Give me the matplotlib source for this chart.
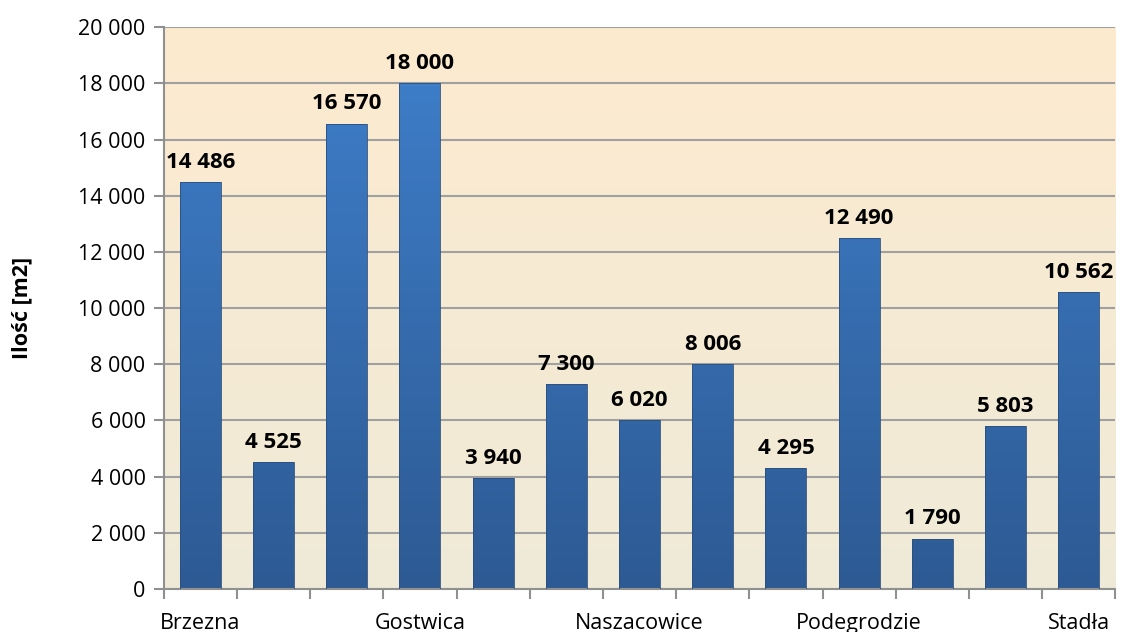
import numpy as np
import matplotlib.pyplot as plt
from matplotlib.colors import LinearSegmentedColormap

plt.rcParams['font.family'] = ['Open Sans', 'DejaVu Sans']

# data
villages = ['Brzezna', 'Chochorowice', 'Długołęka-Świerkla', 'Gostwica', 'Juraszowa',
            'Mokra Wieś', 'Naszacowice', 'Olszana', 'Olszanka', 'Podegrodzie',
            'Rogi', 'Rychwałd', 'Stadła']
area = [14486, 4525, 16570, 18000, 3940, 7300, 6020, 8006, 4295, 12490, 1790, 5803, 10562]
yticks = list(range(0, 20001, 2000))


def fmt(v):
    return f'{v:,}'.replace(',', ' ')


fig, ax = plt.subplots(figsize=(11.21, 6.32), dpi=100)
fig.subplots_adjust(left=0.146, right=0.995, top=0.957, bottom=0.068)

x = np.arange(len(villages))
ax.set_xlim(-0.5, len(villages) - 0.5)
ax.set_ylim(0, 20000)

# background gradient
bg = LinearSegmentedColormap.from_list('bg', ['#efead8', '#fdebcf'])
ax.imshow(np.linspace(0, 1, 256).reshape(-1, 1), cmap=bg, aspect='auto',
          extent=(-0.5, len(villages) - 0.5, 0, 20000), origin='lower', zorder=0)

ax.set_yticks(yticks)
ax.yaxis.grid(True, color='#a0a0a0', linewidth=1.5, zorder=1)
ax.set_axisbelow(True)

bars = ax.bar(x, area, width=0.56, color='none', edgecolor='#2b4f7e', linewidth=0.6, zorder=3)
bar_cmap = LinearSegmentedColormap.from_list('bar', ['#2d5a93', '#3f80cd'])
for b in bars:
    x0 = b.get_x()
    im = ax.imshow(np.linspace(0, 1, 256).reshape(-1, 1), cmap=bar_cmap, aspect='auto',
                   extent=(x0, x0 + b.get_width(), 0, 20000), origin='lower', zorder=2)
    im.set_clip_path(b)

for xi, v in zip(x, area):
    ax.text(xi, v + 330, fmt(v), ha='center', va='bottom', fontsize=16, fontweight='bold')

ax.set_yticklabels([fmt(t) for t in yticks], fontsize=15.5)
ax.set_xticks(x[::3])
ax.set_xticklabels([villages[i] for i in range(0, len(villages), 3)], fontsize=15.5)
ax.set_xticks(np.arange(-0.5, len(villages)), minor=True)
ax.tick_params(axis='x', which='major', length=0, pad=17)
ax.tick_params(axis='x', which='minor', length=7, color='#909090', width=1.5)
ax.tick_params(axis='y', length=7, color='#909090', width=1.5, pad=6)

ax.set_ylabel('Ilość [m2]', fontsize=15.5, fontweight='bold', labelpad=33)

for s in ['top', 'right']:
    ax.spines[s].set_visible(False)
for s in ['left', 'bottom']:
    ax.spines[s].set_color('#909090')
    ax.spines[s].set_linewidth(1.5)

plt.savefig('out.png', dpi=100)
